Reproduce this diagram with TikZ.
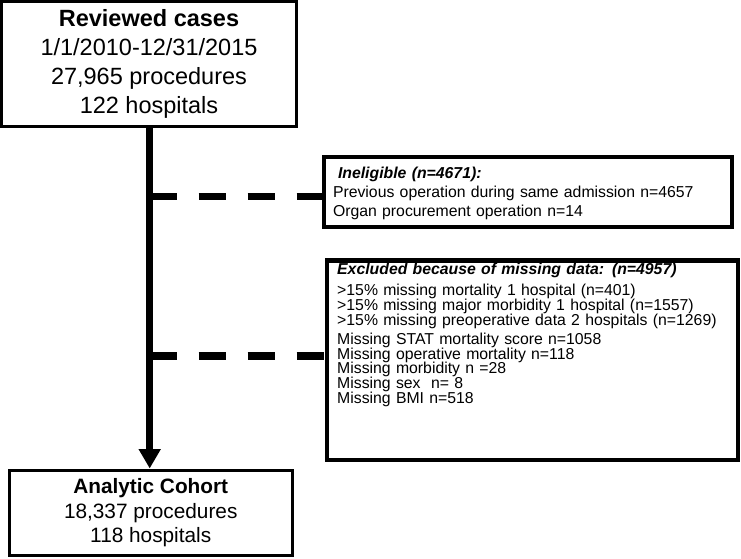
\documentclass[tikz,border=0pt]{standalone}
\usepackage{fontspec}
\setmainfont{Liberation Sans}
\usetikzlibrary{arrows.meta,calc}
\tikzset{
  mainbox/.style={draw=black, fill=white, rectangle, inner sep=0pt, align=center},
  sidebox/.style={draw=black, fill=white, rectangle, inner ysep=0pt},
  flowarrow/.style={line width=7pt, -{Triangle[width=21pt,length=19.5pt]}},
  dashlink/.style={line width=7.3pt, dash pattern=on 27.5pt off 21.5pt},
}
\begin{document}
\begin{tikzpicture}[x=1pt, y=-1pt]
\useasboundingbox[fill=white] (0,0) rectangle (741,558);

\node[mainbox, line width=2.7pt, minimum width=295.4pt, minimum height=125pt,
      font=\fontsize{23.5}{29}\selectfont] (rev) at (149,63.8)
  {{\bfseries Reviewed cases}\\1/1/2010-12/31/2015\\27,965 procedures\\122 hospitals};

\node[mainbox, line width=3pt, minimum width=283.5pt, minimum height=85.7pt,
      font=\fontsize{20.8}{24.5}\selectfont] (coh) at (150.75,512.85)
  {{\bfseries Analytic Cohort}\\18,337 procedures\\118 hospitals};

\node[sidebox, line width=4pt, minimum width=408.5pt, minimum height=70.5pt,
      text width=389.5pt, inner xsep=9.5pt, align=left,
      font=\fontsize{15.8}{19}\selectfont] (inel) at (527.75,191.75)
  {\rule{0pt}{15.5pt}\hspace*{5pt}\textbf{\textit{Ineligible (n=4671):}}\\
   Previous operation during same admission n=4657\\
   Organ procurement operation n=14};

\node[sidebox, line width=4.3pt, minimum width=411pt, minimum height=199.8pt] (exc) at (532.5,360.4) {};
\node[anchor=north west, inner sep=0pt, text width=395pt, align=left,
      font=\fontsize{15.8}{14.8}\selectfont] (exctext) at (337,262.5)
  {\textbf{\textit{Excluded because of missing data: (n=4957)}}\\[6.7pt]
   >15\% missing mortality 1 hospital (n=401)\\
   >15\% missing major morbidity 1 hospital (n=1557)\\
   >15\% missing preoperative data 2 hospitals (n=1269)\\[4.2pt]
   Missing STAT mortality score n=1058\\
   Missing operative mortality n=118\\
   Missing morbidity n =28\\
   Missing sex\ \ n= 8\\
   Missing BMI n=518};

\coordinate (j1) at (149.7,196.3);
\coordinate (j2) at (149.7,356);
\coordinate (top) at (149.7,126);

\draw[dashlink] (j1) -- (j1 -| inel.west);
\draw[dashlink] (j2) -- (j2 -| exc.west);
\draw[flowarrow] (rev.south -| top) -- (top |- coh.north);
\end{tikzpicture}
\end{document}
